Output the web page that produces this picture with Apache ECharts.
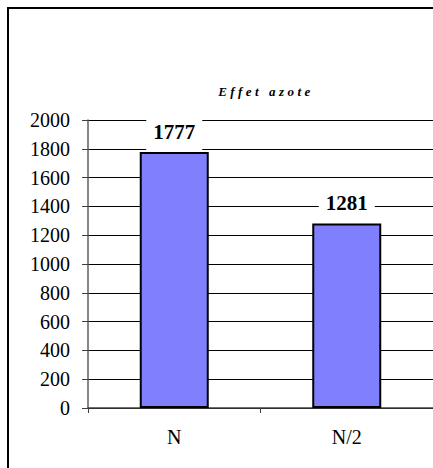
<!DOCTYPE html>
<html><head><meta charset="utf-8">
<script src="https://cdn.jsdelivr.net/npm/echarts@6/dist/echarts.min.js"></script>
<style>
html,body{margin:0;padding:0;background:#fff;overflow:hidden}
#wrap{position:relative;width:433px;height:468px;overflow:hidden}
#c{position:absolute;left:0;top:0;width:433px;height:468px}
#frame{position:absolute;left:7px;top:7px;width:600px;height:600px;border-top:2px solid #000;border-left:2px solid #000;pointer-events:none}
</style>
</head><body><div id="wrap"><div id="c"></div><div id="frame"></div></div>
<script>
const categories = ['N', 'N/2'];
const values = [1777, 1281];
const yTicks = [0, 200, 400, 600, 800, 1000, 1200, 1400, 1600, 1800, 2000];
const titleText = 'Effet azote';

const chart = echarts.init(document.getElementById('c'), null, {renderer: 'svg'});
const serif = '"Liberation Serif", "Times New Roman", serif';
chart.setOption({
  animation: false,
  backgroundColor: '#fff',
  title: {
    text: titleText,
    left: 261, top: 80, textAlign: 'center',
    textStyle: {fontFamily: serif, fontSize: 13, fontWeight: 'bold', fontStyle: 'italic', color: '#000'}
  },
  grid: {left: 88, top: 120, width: 345, bottom: 60, containLabel: false},
  xAxis: {
    type: 'category', data: categories,
    axisLine: {lineStyle: {color: '#404040', width: 1.5}},
    axisTick: {show: true, length: 5, inside: false, lineStyle: {color: '#404040'}},
    axisLabel: {fontFamily: serif, fontSize: 20, color: '#000', margin: 19}
  },
  yAxis: {
    type: 'value', min: yTicks[0], max: yTicks[yTicks.length - 1], interval: 200,
    axisLine: {show: true, lineStyle: {color: '#606060', width: 1.5}},
    axisTick: {show: true, length: 6, lineStyle: {color: '#404040'}},
    splitLine: {show: true, lineStyle: {color: '#000', width: 1}},
    axisLabel: {fontFamily: serif, fontSize: 20, color: '#000', margin: 18, formatter: v => String(v)}
  },
  series: [{
    type: 'bar', data: values, barWidth: 69,
    itemStyle: {color: '#8080FF', borderColor: '#000', borderWidth: 2},
    label: {
      show: true, position: 'top', distance: 1,
      fontFamily: serif, fontSize: 21, fontWeight: 'bold', color: '#000',
      backgroundColor: '#fff', padding: [3, 7, 9, 7]
    }
  }]
});
document.querySelectorAll('#c svg text').forEach(t => {
  if (t.textContent === titleText) {
    t.style.letterSpacing = '3.5px';
  }
});
</script></body></html>
